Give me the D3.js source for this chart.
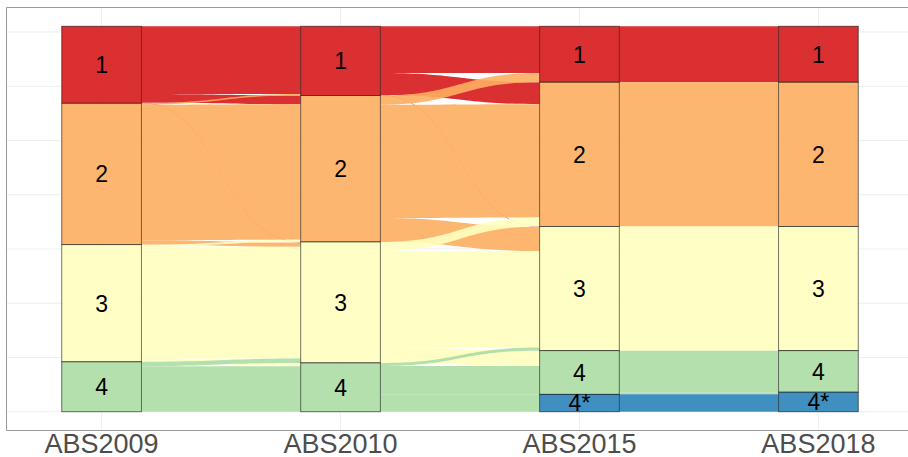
<!DOCTYPE html>
<html>
<head>
<meta charset="utf-8">
<script src="https://cdn.jsdelivr.net/npm/d3@7"></script>
<style>
  body { margin: 0; background: #fff; }
  svg { display: block; font-family: "Liberation Sans", Arial, sans-serif; }
</style>
</head>
<body>
<svg id="chart" width="908" height="457"></svg>
<script>
const axes = ['ABS2009', 'ABS2010', 'ABS2015', 'ABS2018'];
const strata = ['1', '2', '3', '4', '4*'];
const strataColors = ['#d7191c', '#fdae61', '#ffffbf', '#abdda4', '#2b83ba'];

// flows between neighbouring axes: [from stratum, to stratum, count]
const flows0910 = [
  ['1', '1', 62.5], ['1', '2', 8], ['1', '3', 0.5],
  ['2', '1', 1.3], ['2', '2', 125], ['2', '3', 4],
  ['3', '2', 2], ['3', '3', 103], ['3', '4', 3],
  ['4', '3', 4], ['4', '4', 42]
];
const flows1015 = [
  ['1', '1', 43.1], ['1', '2', 20.2], ['1', '3', 0.5],
  ['2', '1', 8.5], ['2', '2', 104.5], ['2', '3', 22],
  ['3', '2', 8.3], ['3', '3', 89.1], ['3', '4', 14.1],
  ['4', '3', 2.8], ['4', '4', 26.2], ['4', '4*', 16]
];
const flows1518 = [
  ['1', '1', 51.6], ['2', '2', 133], ['3', '3', 114.4],
  ['4', '4', 38.3], ['4', '4*', 2], ['4*', '4*', 16]
];
const flowSets = [flows0910, flows1015, flows1518];
const gridBreaks = [0, 50, 100, 150, 200, 250, 300, 350];

const svg = d3.select('#chart');
const panel = { left: 6, right: 914, top: 7, bottom: 431 };

const sIndex = s => strata.indexOf(s);
const color = s => strataColors[sIndex(s)];

// stratum sizes per axis, taken from the flows
function axisTotals(a) {
  const flows = a === 0 ? flowSets[0] : flowSets[a - 1];
  const key = a === 0 ? 0 : 1;
  const m = d3.rollup(flows, v => d3.sum(v, d => d[2]), d => d[key]);
  return strata.filter(s => m.has(s)).map(s => ({ stratum: s, value: m.get(s) }));
}

const strataByAxis = axes.map((ax, a) => {
  const list = axisTotals(a);
  const total = d3.sum(list, d => d.value);
  let cum = 0;
  list.forEach(d => {
    d.axis = a;
    d.top = total - cum;
    cum += d.value;
    d.bottom = total - cum;
  });
  return list;
});

const total = d3.sum(strataByAxis[0], d => d.value);

const x = d3.scaleLinear().domain([-0.4, axes.length - 1 + 0.4]).range([panel.left, panel.right]);
const y = d3.scaleLinear().domain([-0.05 * total, 1.05 * total]).range([panel.bottom, panel.top]);
const stratumWidth = (x(1) - x(0)) / 3;

// grid
const grid = svg.append('g');
grid.selectAll('.hgrid')
  .data(gridBreaks)
  .enter().append('line')
  .attr('x1', panel.left).attr('x2', panel.right)
  .attr('y1', d => y(d)).attr('y2', d => y(d))
  .attr('stroke', '#efefef').attr('stroke-width', 1);
grid.selectAll('.vgrid')
  .data(axes)
  .enter().append('line')
  .attr('x1', (d, i) => x(i)).attr('x2', (d, i) => x(i))
  .attr('y1', panel.top).attr('y2', panel.bottom)
  .attr('stroke', '#efefef').attr('stroke-width', 1);

// flows: s-shaped bands from one stratum edge to the next
const area = d3.area()
  .x(d => d.x)
  .y0(d => y(d.y0))
  .y1(d => y(d.y1))
  .curve(d3.curveBumpX);

const flowG = svg.append('g');

flowSets.forEach((flows, a) => {
  const left = strataByAxis[a];
  const right = strataByAxis[a + 1];
  const x0 = x(a) + stratumWidth / 2;
  const x1 = x(a + 1) - stratumWidth / 2;

  const leftCursor = {}, rightCursor = {};
  left.forEach(d => { leftCursor[d.stratum] = d.top; });
  right.forEach(d => { rightCursor[d.stratum] = d.top; });

  const lodes = flows.map(f => ({ from: f[0], to: f[1], value: f[2] }));

  // left side: lodes sorted by destination
  lodes.slice()
    .sort((p, q) => sIndex(p.from) - sIndex(q.from) || sIndex(p.to) - sIndex(q.to))
    .forEach(l => {
      l.lTop = leftCursor[l.from];
      leftCursor[l.from] -= l.value;
    });
  // right side: lodes sorted by origin
  lodes.slice()
    .sort((p, q) => sIndex(p.to) - sIndex(q.to) || sIndex(p.from) - sIndex(q.from))
    .forEach(l => {
      l.rTop = rightCursor[l.to];
      rightCursor[l.to] -= l.value;
    });

  flowG.selectAll('.flow-' + a)
    .data(lodes)
    .enter().append('path')
    .attr('class', 'flow-' + a)
    .attr('d', l => area([
      { x: x0, y0: l.lTop - l.value, y1: l.lTop },
      { x: x1, y0: l.rTop - l.value, y1: l.rTop }
    ]))
    .attr('fill', l => color(l.from))
    .attr('fill-opacity', 0.9);
});

// strata boxes
const strataG = svg.append('g');
const allStrata = strataByAxis.flat();

strataG.selectAll('rect')
  .data(allStrata)
  .enter().append('rect')
  .attr('x', d => x(d.axis) - stratumWidth / 2)
  .attr('y', d => y(d.top))
  .attr('width', stratumWidth)
  .attr('height', d => y(d.bottom) - y(d.top))
  .attr('fill', d => color(d.stratum))
  .attr('fill-opacity', 0.9)
  .attr('stroke', '#000')
  .attr('stroke-opacity', 0.6)
  .attr('stroke-width', 0.9);

strataG.selectAll('text')
  .data(allStrata)
  .enter().append('text')
  .attr('x', d => x(d.axis))
  .attr('y', d => y((d.top + d.bottom) / 2))
  .attr('dy', '0.36em')
  .attr('text-anchor', 'middle')
  .attr('font-size', 23)
  .attr('fill', '#000')
  .text(d => d.stratum);

// panel frame (left, top, bottom)
svg.append('path')
  .attr('d', `M${panel.right},${panel.top + 0.5}H${panel.left + 0.5}V${panel.bottom - 0.5}H${panel.right}`)
  .attr('fill', 'none')
  .attr('stroke', '#999')
  .attr('stroke-width', 1);

// x axis labels
svg.append('g')
  .selectAll('text')
  .data(axes)
  .enter().append('text')
  .attr('x', (d, i) => x(i))
  .attr('y', 452.5)
  .attr('text-anchor', 'middle')
  .attr('font-size', 27)
  .attr('fill', '#4d4d4d')
  .text(d => d);
</script>
</body>
</html>
